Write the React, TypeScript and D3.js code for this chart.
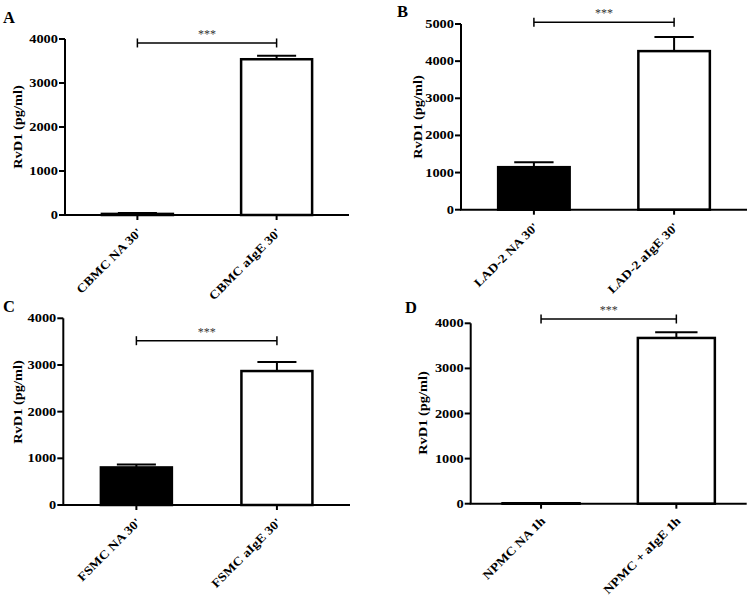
import React from "react";
import * as d3 from "d3";

// ---------- data ----------
const categoriesA = ["CBMC NA 30'", "CBMC aIgE 30'"];
const meansA = [25, 3540];
const semA = [20, 80];

const categoriesB = ["LAD-2 NA 30'", "LAD-2 aIgE 30'"];
const meansB = [1145, 4270];
const semB = [130, 380];

const categoriesC = ["FSMC NA 30'", "FSMC aIgE 30'"];
const meansC = [805, 2870];
const semC = [65, 195];

const categoriesD = ["NPMC NA 1h", "NPMC + aIgE 1h"];
const meansD = [10, 3675];
const semD = [6, 125];

const yTicksA = [0, 1000, 2000, 3000, 4000];
const yTicksB = [0, 1000, 2000, 3000, 4000, 5000];
const yTicksC = [0, 1000, 2000, 3000, 4000];
const yTicksD = [0, 1000, 2000, 3000, 4000];

const panelLetters = ["A", "B", "C", "D"];
const sigLabels = ["***", "***", "***", "***"];
const sigLevels = [3910, 5045, 3520, 4095];
const yAxisTitle = "RvD1 (pg/ml)";
const barFills = ["#000000", "#ffffff"];

// ---------- layout ----------
const layouts = [
  { axisX: 65, axisEnd: 349, yBottom: 215, yTop: 39, barW: 71, letterX: 3, letterY: 23, titleX: 17.5, titleY: 127 },
  { axisX: 461, axisEnd: 747, yBottom: 209.7, yTop: 24, barW: 71.5, letterX: 397, letterY: 16.5, titleX: 417.5, titleY: 117 },
  { axisX: 63.3, axisEnd: 350, yBottom: 505, yTop: 318.3, barW: 71, letterX: 3, letterY: 311.5, titleX: 17.5, titleY: 402 },
  { axisX: 470.7, axisEnd: 746.7, yBottom: 503.7, yTop: 323.3, barW: 77, letterX: 405, letterY: 313, titleX: 423, titleY: 413 },
];

const panels = [
  { cats: categoriesA, means: meansA, sem: semA, ticks: yTicksA },
  { cats: categoriesB, means: meansB, sem: semB, ticks: yTicksB },
  { cats: categoriesC, means: meansC, sem: semC, ticks: yTicksC },
  { cats: categoriesD, means: meansD, sem: semD, ticks: yTicksD },
];

const FONT = "'Liberation Serif', 'Times New Roman', Times, serif";
const FS = 12;
const SX = 1.2;
const SXL = 1.16;

function Panel({ idx }: { idx: number }) {
  const p = panels[idx];
  const L = layouts[idx];
  const yMax = p.ticks[p.ticks.length - 1];
  const y = d3.scaleLinear().domain([0, yMax]).range([L.yBottom, L.yTop]);
  const x = d3.scalePoint<string>().domain(p.cats).range([L.axisX, L.axisEnd]).padding(0.52);
  const capW = L.barW * 0.55;
  const x1 = x(p.cats[0])!;
  const x2 = x(p.cats[1])!;
  const sy = y(sigLevels[idx]);

  return (
    <g>
      <text x={L.letterX} y={L.letterY} fontFamily={FONT} fontWeight="bold" fontSize={16.5}>
        {panelLetters[idx]}
      </text>
      {/* y title */}
      <text
        transform={`translate(${L.titleX},${L.titleY}) rotate(-90) scale(${SX},1)`}
        textAnchor="middle"
        dominantBaseline="central"
        fontFamily={FONT}
        fontWeight="bold"
        fontSize={FS}
      >
        {yAxisTitle}
      </text>
      {/* bars */}
      {p.cats.map((c, i) => {
        const cx = x(c)!;
        const top = y(p.means[i]);
        const errY = y(p.means[i] + p.sem[i]);
        return (
          <g key={c}>
            <rect
              x={cx - L.barW / 2}
              y={top}
              width={L.barW}
              height={Math.max(0.5, L.yBottom - top)}
              fill={barFills[i]}
              stroke="#000"
              strokeWidth={2.5}
            />
            <line x1={cx} x2={cx} y1={top} y2={errY} stroke="#000" strokeWidth={2} />
            <line x1={cx - capW / 2} x2={cx + capW / 2} y1={errY} y2={errY} stroke="#000" strokeWidth={2} />
          </g>
        );
      })}
      {/* y axis */}
      <line x1={L.axisX} x2={L.axisX} y1={L.yBottom} y2={y(yMax)} stroke="#000" strokeWidth={2} />
      {p.ticks.map((t) => (
        <g key={t}>
          <line x1={L.axisX - 6} x2={L.axisX} y1={y(t)} y2={y(t)} stroke="#000" strokeWidth={2} />
          <text
            transform={`translate(${L.axisX - 7},${y(t)}) scale(${SX},1)`}
            textAnchor="end"
            dominantBaseline="central"
            fontFamily={FONT}
            fontWeight="bold"
            fontSize={FS}
          >
            {t}
          </text>
        </g>
      ))}
      {/* x axis */}
      <line x1={L.axisX - 1} x2={L.axisEnd} y1={L.yBottom} y2={L.yBottom} stroke="#000" strokeWidth={2} />
      {p.cats.map((c) => (
        <g key={"t" + c}>
          <line x1={x(c)!} x2={x(c)!} y1={L.yBottom} y2={L.yBottom + 5} stroke="#000" strokeWidth={2} />
          <text
            transform={`translate(${x(c)! + 5},${L.yBottom + 18}) rotate(-45) scale(${SXL},1)`}
            textAnchor="end"
            fontFamily={FONT}
            fontWeight="bold"
            fontSize={FS}
          >
            {c}
          </text>
        </g>
      ))}
      {/* significance bracket */}
      <line x1={x1} x2={x2} y1={sy} y2={sy} stroke="#000" strokeWidth={1.5} />
      <line x1={x1} x2={x1} y1={sy - 4.5} y2={sy + 4.5} stroke="#000" strokeWidth={1.5} />
      <line x1={x2} x2={x2} y1={sy - 4.5} y2={sy + 4.5} stroke="#000" strokeWidth={1.5} />
      <text
        x={(x1 + x2) / 2}
        y={sy - 5}
        textAnchor="middle"
        fontFamily={FONT}
        fontSize={12}
        fill="#333"
      >
        {sigLabels[idx]}
      </text>
    </g>
  );
}

export default function App() {
  return (
    <svg
      width={750}
      height={598}
      style={{ position: "absolute", left: 0, top: 0, background: "#fff" }}
    >
      <rect width={750} height={598} fill="#fff" />
      {panels.map((_, i) => (
        <Panel key={i} idx={i} />
      ))}
    </svg>
  );
}
